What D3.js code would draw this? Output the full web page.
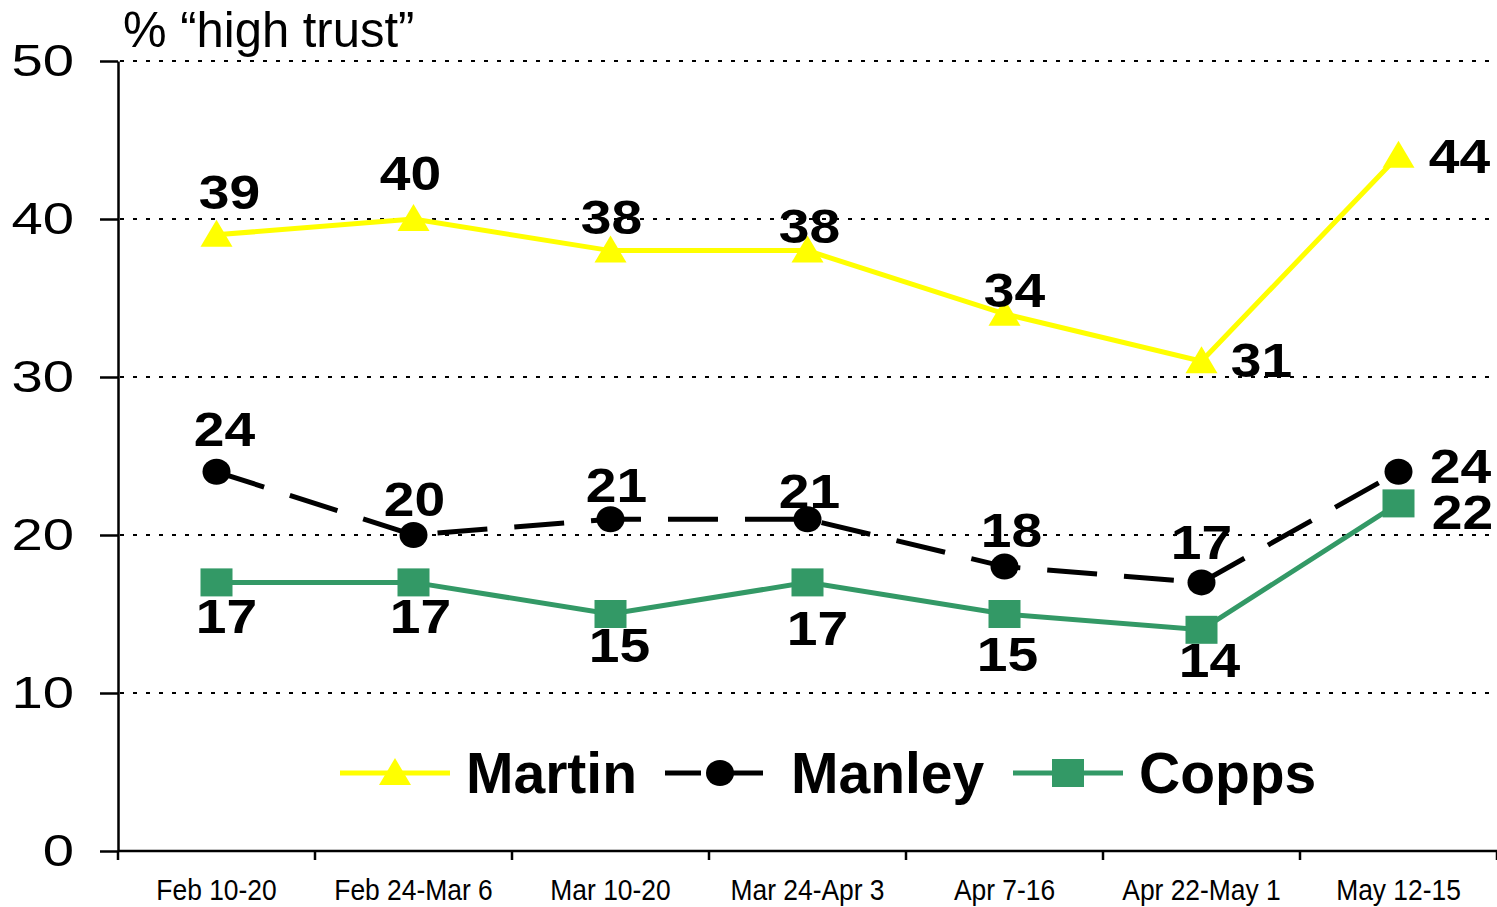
<html>
<head>
<meta charset="utf-8">
<style>
  body { margin: 0; background: #fff; }
  .tick text { fill: #000; }
  .grid line { stroke: #000; stroke-width: 2; stroke-dasharray: 4,9; }
  .lbl { font-family: "Liberation Sans", Arial, sans-serif; font-weight: bold; font-size: 48px; fill: #000; }
  .leg { font-family: "Liberation Sans", Arial, sans-serif; font-weight: bold; font-size: 57px; fill: #000; }
  .narrow { font-family: "Liberation Sans Narrow", "Arial Narrow", "Liberation Sans", sans-serif; }
</style>
<script src="https://cdn.jsdelivr.net/npm/d3@7"></script>
</head>
<body>
<svg width="1497" height="907"></svg>
<script>
// data
var categories = ["Feb 10-20", "Feb 24-Mar 6", "Mar 10-20", "Mar 24-Apr 3", "Apr 7-16", "Apr 22-May 1", "May 12-15"];
var martin = [39, 40, 38, 38, 34, 31, 44];
var manley = [24, 20, 21, 21, 18, 17, 24];
var copps  = [17, 17, 15, 17, 15, 14, 22];
var yTicks = [0, 10, 20, 30, 40, 50];
var gridTicks = [10, 20, 30, 40, 50];

// label nudges (px) from each point to the label's centre/baseline
var martinNudge = [[13,-26],[-3,-29],[1,-17],[2,-8],[10,-7],[60,16],[61,17]];
var manleyNudge = [[8,-26],[1,-19],[6,-17],[2,-11],[7,-20],[0,-23],[62,11]];
var coppsNudge  = [[10,51],[7,51],[9,48],[10,63],[3,57],[8,47],[64,26]];

var margin = { top: 61, right: 0, bottom: 56, left: 118 };
var svg = d3.select("svg");
var width = +svg.attr("width") - margin.left - margin.right;
var height = +svg.attr("height") - margin.top - margin.bottom;
var g = svg.append("g").attr("transform", "translate(" + margin.left + "," + margin.top + ")");

var x = d3.scaleBand().domain(categories).range([0, width]);
var y = d3.scaleLinear().domain([0, 50]).range([height, 0]);
var cx = function(d, i) { return x(categories[i]) + x.bandwidth() / 2; };

// dotted gridlines
g.append("g").attr("class", "grid")
  .selectAll("line").data(gridTicks).enter().append("line")
  .attr("x1", 2).attr("x2", width)
  .attr("y1", function(d) { return y(d); }).attr("y2", function(d) { return y(d); });

// y axis
var ya = g.append("g")
  .call(d3.axisLeft(y).tickValues(yTicks).tickSize(18).tickSizeOuter(0).tickPadding(25));
ya.select(".domain").attr("stroke", "#000").attr("stroke-width", 2.5);
ya.selectAll(".tick line").attr("stroke", "#000").attr("stroke-width", 2.5);
// the reference digits are stretched sideways
ya.selectAll(".tick text")
  .attr("x", 0)
  .attr("transform", "translate(-44,0) scale(1.25,1)")
  .style("font-family", "'Liberation Sans', Arial, sans-serif")
  .style("font-size", "45px");

// x axis: labels at band centres, ticks at band edges
var xa = g.append("g").attr("transform", "translate(0," + height + ")")
  .call(d3.axisBottom(x).tickSize(0).tickSizeOuter(0).tickPadding(28));
xa.select(".domain").remove();
xa.selectAll(".tick text").attr("class", "narrow")
  .attr("transform", "scale(0.88,1)")
  .style("font-size", "30px");
g.append("line").attr("x1", 0).attr("x2", width).attr("y1", height).attr("y2", height)
  .attr("stroke", "#000").attr("stroke-width", 2.5);
var edges = categories.map(function(c) { return x(c); }).concat([width]);
g.append("g").selectAll("line").data(edges).enter().append("line")
  .attr("x1", function(d) { return d; }).attr("x2", function(d) { return d; })
  .attr("y1", height).attr("y2", height + 9)
  .attr("stroke", "#000").attr("stroke-width", 2.5);

// title
svg.append("text").attr("class", "narrow")
  .attr("transform", "translate(123,47) scale(0.98,1)")
  .style("font-size", "50px")
  .text("% \u201chigh trust\u201d");

var line = d3.line().x(cx).y(function(d) { return y(d); });

function marker(sel, type, color) {
  if (type === "tri") {
    sel.append("path").attr("d", "M0,-15L16,12L-16,12Z").attr("fill", color);
  } else if (type === "circle") {
    sel.append("ellipse").attr("rx", 14).attr("ry", 13).attr("fill", color);
  } else {
    sel.append("rect").attr("x", -16).attr("y", -14).attr("width", 32).attr("height", 28).attr("fill", color);
  }
}

function drawSeries(vals, color, dash, type, nudge) {
  g.append("path").datum(vals).attr("d", line)
    .attr("fill", "none").attr("stroke", color).attr("stroke-width", 5)
    .attr("stroke-dasharray", dash);
  g.selectAll(null).data(vals).enter().append("g")
    .attr("transform", function(d, i) { return "translate(" + cx(d, i) + "," + y(d) + ")"; })
    .each(function() { marker(d3.select(this), type, color); });
  g.selectAll(null).data(vals).enter().append("text")
    .attr("class", "lbl")
    .attr("text-anchor", "middle")
    .attr("transform", function(d, i) {
      return "translate(" + (cx(d, i) + nudge[i][0]) + "," + (y(d) + nudge[i][1]) + ") scale(1.15,1)";
    })
    .text(function(d) { return d; });
}

drawSeries(copps, "#339966", null, "square", coppsNudge);
drawSeries(manley, "#000000", "50,27", "circle", manleyNudge);
drawSeries(martin, "#ffff00", null, "tri", martinNudge);

// legend
var legend = [
  { name: "Martin", color: "#ffff00", dash: null, type: "tri", x0: 340 },
  { name: "Manley", color: "#000000", dash: "36,26", type: "circle", x0: 665 },
  { name: "Copps", color: "#339966", dash: null, type: "square", x0: 1013 }
];
var lg = svg.append("g").attr("transform", "translate(0,773)");
legend.forEach(function(l) {
  lg.append("line").attr("x1", l.x0).attr("x2", l.x0 + 110).attr("y1", 0).attr("y2", 0)
    .attr("stroke", l.color).attr("stroke-width", 5).attr("stroke-dasharray", l.dash);
  var m = lg.append("g").attr("transform", "translate(" + (l.x0 + 55) + ",0)");
  marker(m, l.type, l.color);
  lg.append("text").attr("class", "leg").attr("x", l.x0 + 126).attr("y", 20).text(l.name);
});
</script>
</body>
</html>
